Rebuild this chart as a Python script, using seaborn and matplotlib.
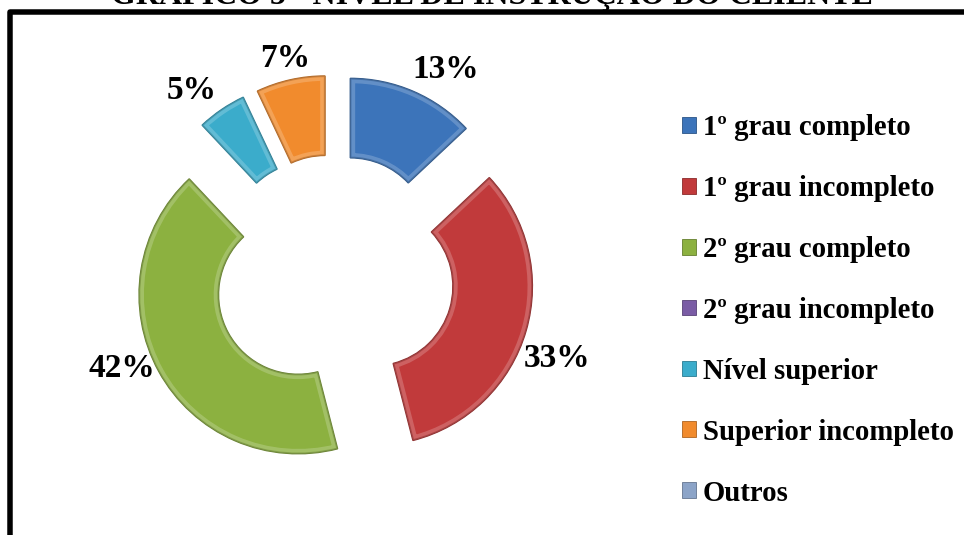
import numpy as np
import matplotlib
matplotlib.use("Agg")
import matplotlib.pyplot as plt
from matplotlib.patches import Patch, Rectangle, Wedge
import seaborn as sns

# --- data -------------------------------------------------------------
categorias = ["1º grau completo", "1º grau incompleto", "2º grau completo",
              "2º grau incompleto", "Nível superior", "Superior incompleto", "Outros"]
percentuais = [13, 33, 42, 0, 5, 7, 0]
cores = ["#3C74BA", "#C13A3B", "#8CB140", "#7A5CA5", "#3BACCB", "#F18B2D", "#8CA4C8"]
titulo = "GRÁFICO 5 - NÍVEL DE INSTRUÇÃO DO CLIENTE"

# --- style ------------------------------------------------------------
sns.set_theme(style="white")
plt.rcParams["font.family"] = ["Liberation Serif", "DejaVu Serif"]
plt.rcParams["text.color"] = "black"
palette = sns.color_palette(cores)


def escurecer(c, f=0.72):
    return tuple(v * f for v in c)


W, H = 964, 535
fig = plt.figure(figsize=(W / 100, H / 100), dpi=100)
fig.patch.set_facecolor("white")

# donut geometry (pixels, y measured upwards)
cx, cy, R = 334, 260, 159
L = 1.5
ax = fig.add_axes([(cx - L * R) / W, (cy - L * R) / H, 2 * L * R / W, 2 * L * R / H])

explode = [0.258] * len(percentuais)
wedges, _ = ax.pie(percentuais, colors=palette, startangle=90, counterclock=False,
                   explode=explode, radius=1,
                   wedgeprops=dict(width=0.5, linewidth=1.0))
for w, c, v in zip(wedges, palette, percentuais):
    w.set_edgecolor(escurecer(c))
    if v == 0:
        w.set_linewidth(0)
        continue
    # soft bevel: a light rim kept inside the slice
    rim = Wedge(w.center, w.r, w.theta1, w.theta2, width=w.width,
                facecolor="none", edgecolor=(1, 1, 1, 0.2), linewidth=7)
    ax.add_patch(rim)
    rim.set_clip_path(w)
    rim2 = Wedge(w.center, w.r, w.theta1, w.theta2, width=w.width,
                 facecolor="none", edgecolor=escurecer(c, 0.8) + (0.5,), linewidth=1.8)
    ax.add_patch(rim2)
    rim2.set_clip_path(w)
ax.set_xlim(-L, L)
ax.set_ylim(-L, L)
ax.set_aspect("equal", adjustable="box")
ax.axis("off")

# percentage labels placed just outside each slice
desvio_ang = [6.2, 6.2, 3.1, 0, -4.7, -0.7, 0]
dist_rot = [1.425, 1.517, 1.480, 0, 1.422, 1.344, 0]
total = float(sum(percentuais))
acum = 0.0
for v, dv, dr in zip(percentuais, desvio_ang, dist_rot):
    meio = (acum + v / 2) / total * 360
    acum += v
    if v == 0:
        continue
    a = np.deg2rad(meio + dv)
    ax.text(dr * np.sin(a), dr * np.cos(a), f"{v}%", ha="center", va="baseline",
            fontsize=24, fontweight="bold", color="black")

# legend
handles = [Patch(facecolor=c, edgecolor=escurecer(c), linewidth=0.6) for c in palette]
leg = fig.legend(handles, categorias, loc="upper left",
                 bbox_to_anchor=(682 / W, 1 - 114 / H), frameon=False,
                 prop=dict(family=["Liberation Serif", "DejaVu Serif"], weight="bold", size=20.7),
                 handlelength=0.47, handleheight=0.47, handletextpad=0.25,
                 labelspacing=1.18, borderpad=0, borderaxespad=0)
for t in leg.get_texts():
    t.set_color("black")

# heavy frame around the chart area
fig.patches.append(Rectangle((9.5 / W, -0.1), 2, 1 - 12 / H + 0.1,
                             transform=fig.transFigure, fill=False,
                             edgecolor="black", linewidth=5.5 * 72 / 100,
                             joinstyle="round"))

# title sitting above the frame
fig.text(492 / W, 1 - 4 / H, titulo, ha="center", va="baseline",
         fontsize=23, fontweight="bold", color="black")

fig.savefig("out.png", dpi=100, facecolor="white")
